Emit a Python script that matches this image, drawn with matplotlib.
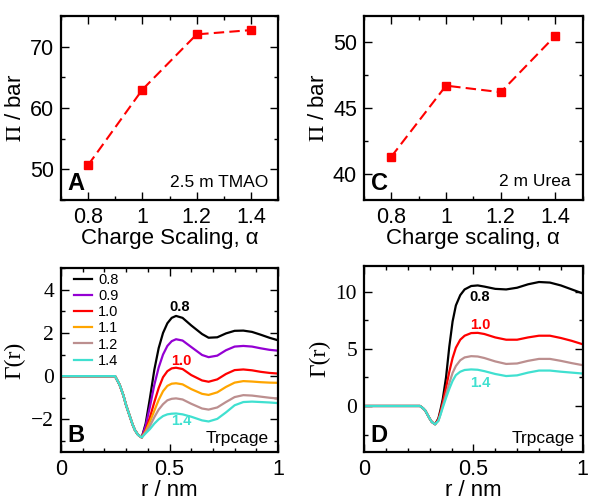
import matplotlib
matplotlib.use("Agg")
import matplotlib.pyplot as plt
from matplotlib.ticker import MultipleLocator

plt.rcParams['font.family'] = ['Liberation Sans', 'DejaVu Sans']
plt.rcParams['mathtext.fontset'] = 'stix'

# ---------------- data ----------------
alpha = [0.8, 1.0, 1.2, 1.4]
pi_tmao = [50.7, 63.0, 72.0, 72.7]
pi_urea = [41.3, 46.7, 46.2, 50.5]

# Panel B (TMAO) Gamma(r) curves
r_common = [0.0, 0.05, 0.1, 0.15, 0.2, 0.249, 0.27, 0.287, 0.30, 0.318, 0.33, 0.341, 0.355, 0.372]
g_common = [0.0, 0.0, 0.0, 0.0, 0.0, 0.0, -0.4, -0.88, -1.35, -1.89, -2.25, -2.51, -2.72, -2.84]

r_tail = [0.39, 0.41, 0.43, 0.45, 0.47, 0.49, 0.51, 0.53, 0.56, 0.60, 0.65, 0.68, 0.72, 0.76, 0.80, 0.84, 0.88, 0.92, 0.96, 1.0]
gB_08 = [-2.2, -1.0, 0.3, 1.3, 2.0, 2.45, 2.7, 2.79, 2.7, 2.35, 1.95, 1.78, 1.8, 1.98, 2.1, 2.11, 2.05, 1.92, 1.78, 1.66]
gB_09 = [-2.3, -1.4, -0.4, 0.4, 1.0, 1.4, 1.62, 1.71, 1.65, 1.35, 0.98, 0.88, 0.95, 1.2, 1.37, 1.4, 1.37, 1.29, 1.22, 1.18]
gB_10 = [-2.5, -1.9, -1.2, -0.55, -0.05, 0.23, 0.36, 0.39, 0.33, 0.05, -0.2, -0.26, -0.15, 0.1, 0.28, 0.31, 0.27, 0.2, 0.15, 0.12]
gB_11 = [-2.55, -2.1, -1.6, -1.1, -0.7, -0.45, -0.35, -0.33, -0.38, -0.6, -0.82, -0.87, -0.75, -0.5, -0.3, -0.23, -0.25, -0.28, -0.3, -0.31]
gB_12 = [-2.6, -2.3, -1.9, -1.55, -1.3, -1.12, -1.05, -1.03, -1.08, -1.28, -1.5, -1.55, -1.45, -1.2, -0.97, -0.88, -0.9, -0.95, -1.0, -1.04]
gB_14 = [-2.65, -2.45, -2.2, -2.0, -1.85, -1.77, -1.74, -1.73, -1.77, -1.88, -2.05, -2.1, -1.98, -1.68, -1.35, -1.2, -1.18, -1.2, -1.22, -1.25]

# Panel D (Urea) Gamma(r) curves
rD_common = [0.0, 0.05, 0.1, 0.15, 0.2, 0.256, 0.27, 0.28, 0.29, 0.30, 0.31, 0.325]
gD_common = [0.0, 0.0, 0.0, 0.0, 0.0, 0.0, -0.2, -0.4, -0.75, -1.1, -1.4, -1.6]
rD_tail = [0.34, 0.35, 0.36, 0.375, 0.39, 0.405, 0.42, 0.44, 0.46, 0.49, 0.52, 0.55, 0.60, 0.65, 0.70, 0.75, 0.80, 0.85, 0.90, 0.95, 1.0]
gD_08 = [-1.1, -0.3, 0.6, 2.5, 5.2, 7.4, 8.8, 9.7, 10.2, 10.5, 10.55, 10.45, 10.25, 10.2, 10.35, 10.65, 10.85, 10.8, 10.55, 10.2, 9.85]
gD_10 = [-1.15, -0.5, 0.3, 1.6, 3.0, 4.2, 5.1, 5.8, 6.15, 6.38, 6.4, 6.3, 6.0, 5.8, 5.8, 6.0, 6.15, 6.15, 5.95, 5.7, 5.4]
gD_12 = [-1.3, -0.7, 0.0, 1.0, 2.0, 2.9, 3.5, 4.0, 4.25, 4.36, 4.33, 4.2, 3.9, 3.68, 3.72, 3.95, 4.12, 4.12, 3.95, 3.75, 3.57]
gD_14 = [-1.3, -0.75, -0.15, 0.7, 1.5, 2.2, 2.7, 3.0, 3.15, 3.2, 3.17, 3.05, 2.8, 2.62, 2.68, 2.92, 3.1, 3.1, 3.0, 2.92, 2.84]

labels_B = ['0.8', '0.9', '1.0', '1.1', '1.2', '1.4']
colors_B = ['#000000', '#9400d3', '#ff0000', '#ffa500', '#bc8f8f', '#40e0d0']
curves_B = [gB_08, gB_09, gB_10, gB_11, gB_12, gB_14]
labels_D = ['0.8', '1.0', '1.2', '1.4']
colors_D = ['#000000', '#ff0000', '#bc8f8f', '#40e0d0']
curves_D = [gD_08, gD_10, gD_12, gD_14]

TICK_FS = 15.5
LABEL_FS = 16

# ---------------- figure ----------------
fig = plt.figure(figsize=(6.0, 5.04), dpi=100)

axA = fig.add_axes([0.1017, 0.6032, 0.3617, 0.3651])
axC = fig.add_axes([0.6067, 0.6032, 0.3645, 0.3651])
axB = fig.add_axes([0.1017, 0.1038, 0.3617, 0.3640])
axD = fig.add_axes([0.6067, 0.1038, 0.3645, 0.3684])

def style(ax, serif_y=False):
    for s in ax.spines.values():
        s.set_linewidth(1.6)
    ax.tick_params(which='both', direction='in', top=True, right=True, width=1.0)
    ax.tick_params(which='major', length=6, labelsize=TICK_FS, pad=5)
    ax.tick_params(which='minor', length=3)
    if serif_y:
        for lab in ax.get_yticklabels():
            lab.set_fontfamily('Liberation Serif')

dash = (0, (5, 2.5))

# Panel A
axA.plot(alpha, pi_tmao, color='#ff0000', linestyle=dash, linewidth=1.5,
         marker='s', markersize=6, markeredgecolor='#ff0000')
axA.set_xlim(0.7, 1.5)
axA.set_ylim(45, 75)
axA.xaxis.set_minor_locator(MultipleLocator(0.1))
axA.yaxis.set_major_locator(MultipleLocator(10))
axA.yaxis.set_minor_locator(MultipleLocator(5))
axA.set_xticks([0.8, 1.0, 1.2, 1.4], ['0.8', '1', '1.2', '1.4'])
axA.set_xlabel('Charge Scaling, α', fontsize=LABEL_FS, labelpad=0)
axA.set_ylabel(r'$\Pi$ / bar', fontsize=LABEL_FS, labelpad=3)
axA.text(0.03, 0.025, 'A', transform=axA.transAxes, fontsize=17, fontweight='bold', ha='left', va='bottom')
axA.text(0.955, 0.07, '2.5 m TMAO', transform=axA.transAxes, fontsize=12.5, ha='right', va='baseline')
style(axA)

# Panel C
axC.plot(alpha, pi_urea, color='#ff0000', linestyle=dash, linewidth=1.5,
         marker='s', markersize=6, markeredgecolor='#ff0000')
axC.set_xlim(0.7, 1.5)
axC.set_ylim(38, 52)
axC.xaxis.set_minor_locator(MultipleLocator(0.1))
axC.yaxis.set_major_locator(MultipleLocator(5))
axC.yaxis.set_minor_locator(MultipleLocator(2.5))
axC.set_xticks([0.8, 1.0, 1.2, 1.4], ['0.8', '1', '1.2', '1.4'])
axC.set_xlabel('Charge scaling, α', fontsize=LABEL_FS, labelpad=0)
axC.set_ylabel(r'$\Pi$ / bar', fontsize=LABEL_FS, labelpad=3)
axC.text(0.03, 0.025, 'C', transform=axC.transAxes, fontsize=17, fontweight='bold', ha='left', va='bottom')
axC.text(0.945, 0.075, '2 m Urea', transform=axC.transAxes, fontsize=12.5, ha='right', va='baseline')
style(axC)

# Panel B
for lab, col, g in zip(labels_B, colors_B, curves_B):
    axB.plot(r_common + r_tail, g_common + g, color=col, linewidth=1.6, label=lab)
axB.set_xlim(0, 1)
axB.set_ylim(-3.5, 5)
axB.xaxis.set_minor_locator(MultipleLocator(0.1))
axB.yaxis.set_major_locator(MultipleLocator(2))
axB.yaxis.set_minor_locator(MultipleLocator(1))
axB.set_xticks([0, 0.5, 1], ['0', '0.5', '1'])
axB.set_xlabel('r / nm', fontsize=LABEL_FS, labelpad=0)
axB.set_ylabel('Γ(r)', fontsize=17, fontfamily='Liberation Serif', labelpad=4)
axB.text(0.548, 3.2, '0.8', color=colors_B[0], fontsize=10.5, fontweight='bold', ha='center', va='center')
axB.text(0.556, 0.70, '1.0', color=colors_B[2], fontsize=10.5, fontweight='bold', ha='center', va='center')
axB.text(0.556, -2.08, '1.4', color=colors_B[5], fontsize=10.5, fontweight='bold', ha='center', va='center')
axB.text(0.03, 0.025, 'B', transform=axB.transAxes, fontsize=17, fontweight='bold', ha='left', va='bottom')
axB.text(0.955, 0.046, 'Trpcage', transform=axB.transAxes, fontsize=12.5, ha='right', va='baseline')
axB.legend(loc='upper left', bbox_to_anchor=(0.06, 0.975), frameon=False, fontsize=10.5,
           handlelength=1.25, handletextpad=0.4, labelspacing=0.15, borderpad=0, borderaxespad=0)
style(axB, serif_y=True)

# Panel D
for lab, col, g in zip(labels_D, colors_D, curves_D):
    axD.plot(rD_common + rD_tail, gD_common + g, color=col, linewidth=1.6, label=lab)
axD.set_xlim(0, 1)
axD.set_ylim(-4, 12.25)
axD.xaxis.set_minor_locator(MultipleLocator(0.1))
axD.yaxis.set_major_locator(MultipleLocator(5))
axD.yaxis.set_minor_locator(MultipleLocator(2.5))
axD.set_xticks([0, 0.5, 1], ['0', '0.5', '1'])
axD.set_xlabel('r / nm', fontsize=LABEL_FS, labelpad=0)
axD.set_ylabel('Γ(r)', fontsize=17, fontfamily='Liberation Serif', labelpad=4)
axD.text(0.53, 9.56, '0.8', color=colors_D[0], fontsize=10.5, fontweight='bold', ha='center', va='center')
axD.text(0.53, 7.08, '1.0', color=colors_D[1], fontsize=10.5, fontweight='bold', ha='center', va='center')
axD.text(0.53, 2.05, '1.4', color=colors_D[3], fontsize=10.5, fontweight='bold', ha='center', va='center')
axD.text(0.03, 0.025, 'D', transform=axD.transAxes, fontsize=17, fontweight='bold', ha='left', va='bottom')
axD.text(0.965, 0.048, 'Trpcage', transform=axD.transAxes, fontsize=12.5, ha='right', va='baseline')
style(axD, serif_y=True)

fig.savefig('out.png', dpi=100)
